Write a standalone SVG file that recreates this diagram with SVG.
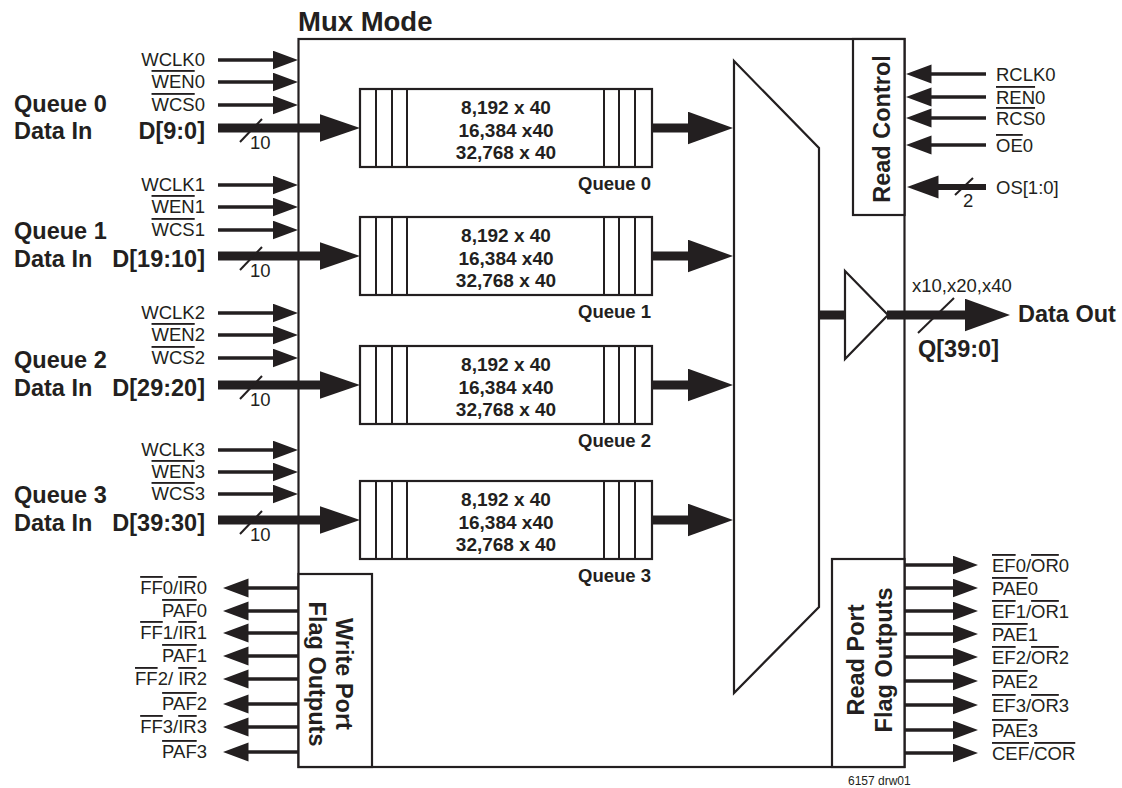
<svg xmlns="http://www.w3.org/2000/svg" width="1122" height="788" viewBox="0 0 1122 788">
<style>
text{font-family:"Liberation Sans",Arial,Helvetica,sans-serif;fill:#231f20}
.t{font-size:18.5px}
.r{text-anchor:end}
.m{text-anchor:middle}
.b{font-weight:bold;font-size:23.5px}
.q{font-weight:bold;font-size:19px;text-anchor:middle}
.ql{font-weight:bold;font-size:18.5px;text-anchor:end}
.ov{text-decoration:overline}
.box{fill:#fff;stroke:#231f20;stroke-width:2.2}
.ln{stroke:#231f20;stroke-width:2;fill:none}
.thin{stroke:#231f20;stroke-width:3.5;fill:none}
.bus{stroke:#231f20;stroke-width:9;fill:none}
.os{stroke:#231f20;stroke-width:6;fill:none}
.sl{stroke:#231f20;stroke-width:2;fill:none}
</style>
<defs>
<marker id="ah" markerUnits="userSpaceOnUse" markerWidth="26" markerHeight="20" refX="0.5" refY="9.5" orient="auto"><path d="M0,0L25.5,9.5L0,19z" fill="#231f20"/></marker>
<marker id="ahb" markerUnits="userSpaceOnUse" markerWidth="41" markerHeight="28" refX="0.5" refY="14" orient="auto"><path d="M0,0L40.5,14L0,28z" fill="#231f20"/></marker>
<marker id="aho" markerUnits="userSpaceOnUse" markerWidth="46" markerHeight="33" refX="0.5" refY="16.5" orient="auto"><path d="M0,0L45.5,16.5L0,33z" fill="#231f20"/></marker>
<marker id="ahs" markerUnits="userSpaceOnUse" markerWidth="32" markerHeight="24" refX="0.5" refY="11.5" orient="auto"><path d="M0,0L31.5,11.5L0,23z" fill="#231f20"/></marker>
</defs>
<rect width="1122" height="788" fill="#fff"/>

<g id="main">
<rect class="box" x="298.5" y="39" width="606" height="728" stroke-width="2.5"/>
<text x="298" y="31" font-weight="bold" font-size="27.5">Mux Mode</text>
</g>

<g id="queue0">
<rect class="box" x="360" y="89" width="292" height="78"/>
<path class="ln" d="M376,89V167M392,89V167M407,89V167M604,89V167M619,89V167M635,89V167"/>
<text class="q" x="506" y="114">8,192 x 40</text>
<text class="q" x="506" y="137">16,384 x40</text>
<text class="q" x="506" y="159">32,768 x 40</text>
<text class="ql" x="651" y="190">Queue 0</text>
</g>
<g id="queue1">
<rect class="box" x="360" y="217" width="292" height="78"/>
<path class="ln" d="M376,217V295M392,217V295M407,217V295M604,217V295M619,217V295M635,217V295"/>
<text class="q" x="506" y="242">8,192 x 40</text>
<text class="q" x="506" y="265">16,384 x40</text>
<text class="q" x="506" y="287">32,768 x 40</text>
<text class="ql" x="651" y="318">Queue 1</text>
</g>
<g id="queue2">
<rect class="box" x="360" y="346" width="292" height="78"/>
<path class="ln" d="M376,346V424M392,346V424M407,346V424M604,346V424M619,346V424M635,346V424"/>
<text class="q" x="506" y="371">8,192 x 40</text>
<text class="q" x="506" y="394">16,384 x40</text>
<text class="q" x="506" y="416">32,768 x 40</text>
<text class="ql" x="651" y="447">Queue 2</text>
</g>
<g id="queue3">
<rect class="box" x="360" y="481" width="292" height="78"/>
<path class="ln" d="M376,481V559M392,481V559M407,481V559M604,481V559M619,481V559M635,481V559"/>
<text class="q" x="506" y="506">8,192 x 40</text>
<text class="q" x="506" y="529">16,384 x40</text>
<text class="q" x="506" y="551">32,768 x 40</text>
<text class="ql" x="651" y="582">Queue 3</text>
</g>

<g id="mux">
<polygon class="box" points="734,61 819,148 819,607 734,693"/>
</g>
<g id="buffer">
<polygon class="box" points="845,271 888,315 845,359"/>
</g>

<g id="readcontrol">
<rect class="box" x="853" y="39" width="51.5" height="176"/>
<text class="b m" transform="translate(890,129) rotate(-90)">Read Control</text>
</g>
<g id="writeflags">
<rect class="box" x="298.5" y="574" width="73.5" height="193"/>
<text class="b m" transform="translate(336,674) rotate(90)">Write Port</text>
<text class="b m" transform="translate(308.5,674) rotate(90)">Flag Outputs</text>
</g>
<g id="readflags">
<rect class="box" x="832" y="559" width="72.5" height="208"/>
<text class="b m" transform="translate(864,660) rotate(-90)">Read Port</text>
<text class="b m" transform="translate(892,660) rotate(-90)">Flag Outputs</text>
</g>

<g id="connectors">
<path class="thin" d="M218,60H273" marker-end="url(#ah)"/>
<path class="thin" d="M218,82H273" marker-end="url(#ah)"/>
<path class="thin" d="M218,105H273" marker-end="url(#ah)"/>
<path class="bus" d="M218,128H320" marker-end="url(#ahb)"/>
<path class="sl" d="M240,142L262,119"/>
<path class="thin" d="M218,185H273" marker-end="url(#ah)"/>
<path class="thin" d="M218,207H273" marker-end="url(#ah)"/>
<path class="thin" d="M218,230H273" marker-end="url(#ah)"/>
<path class="bus" d="M218,256H320" marker-end="url(#ahb)"/>
<path class="sl" d="M240,270L262,247"/>
<path class="thin" d="M218,313H273" marker-end="url(#ah)"/>
<path class="thin" d="M218,335H273" marker-end="url(#ah)"/>
<path class="thin" d="M218,358H273" marker-end="url(#ah)"/>
<path class="bus" d="M218,385H320" marker-end="url(#ahb)"/>
<path class="sl" d="M240,399L262,376"/>
<path class="thin" d="M218,450H273" marker-end="url(#ah)"/>
<path class="thin" d="M218,472H273" marker-end="url(#ah)"/>
<path class="thin" d="M218,494H273" marker-end="url(#ah)"/>
<path class="bus" d="M218,520H320" marker-end="url(#ahb)"/>
<path class="sl" d="M240,534L262,511"/>
<path class="bus" d="M652,128H688" marker-end="url(#aho)"/>
<path class="bus" d="M652,256H688" marker-end="url(#aho)"/>
<path class="bus" d="M652,385H688" marker-end="url(#aho)"/>
<path class="bus" d="M652,520H688" marker-end="url(#aho)"/>
<path class="bus" d="M819,315H845"/>
<path class="bus" d="M887,315H965" marker-end="url(#aho)"/>
<path class="sl" d="M918,333L954,298"/>
<path class="thin" d="M986,74H931" marker-end="url(#ah)"/>
<path class="thin" d="M986,97H931" marker-end="url(#ah)"/>
<path class="thin" d="M986,118H931" marker-end="url(#ah)"/>
<path class="thin" d="M986,145H931" marker-end="url(#ah)"/>
<path class="os" d="M986,187H938" marker-end="url(#ahs)"/>
<path class="sl" d="M955,195L973,178"/>
<path class="thin" d="M298,588H248" marker-end="url(#ah)"/>
<path class="thin" d="M298,611H248" marker-end="url(#ah)"/>
<path class="thin" d="M298,633H248" marker-end="url(#ah)"/>
<path class="thin" d="M298,656H248" marker-end="url(#ah)"/>
<path class="thin" d="M298,679H248" marker-end="url(#ah)"/>
<path class="thin" d="M298,704H248" marker-end="url(#ah)"/>
<path class="thin" d="M298,727H248" marker-end="url(#ah)"/>
<path class="thin" d="M298,752H248" marker-end="url(#ah)"/>
<path class="thin" d="M905,565H953" marker-end="url(#ah)"/>
<path class="thin" d="M905,588H953" marker-end="url(#ah)"/>
<path class="thin" d="M905,611H953" marker-end="url(#ah)"/>
<path class="thin" d="M905,634H953" marker-end="url(#ah)"/>
<path class="thin" d="M905,657H953" marker-end="url(#ah)"/>
<path class="thin" d="M905,681H953" marker-end="url(#ah)"/>
<path class="thin" d="M905,705H953" marker-end="url(#ah)"/>
<path class="thin" d="M905,730H953" marker-end="url(#ah)"/>
<path class="thin" d="M905,753H953" marker-end="url(#ah)"/>
</g>

<g id="labels">
<text class="b" x="14" y="112">Queue 0</text>
<text class="b" x="14" y="139">Data In</text>
<text class="b r" x="205" y="139">D[9:0]</text>
<text class="t r" x="205" y="66">WCLK0</text>
<text class="t r" x="205" y="88"><tspan class="ov">WEN</tspan>0</text>
<text class="t r" x="205" y="111"><tspan class="ov">WCS</tspan>0</text>
<text class="t" x="250" y="149">10</text>

<text class="b" x="14" y="239">Queue 1</text>
<text class="b" x="14" y="267">Data In</text>
<text class="b r" x="205" y="267">D[19:10]</text>
<text class="t r" x="205" y="191">WCLK1</text>
<text class="t r" x="205" y="213"><tspan class="ov">WEN</tspan>1</text>
<text class="t r" x="205" y="236"><tspan class="ov">WCS</tspan>1</text>
<text class="t" x="250" y="277">10</text>

<text class="b" x="14" y="368">Queue 2</text>
<text class="b" x="14" y="396">Data In</text>
<text class="b r" x="205" y="396">D[29:20]</text>
<text class="t r" x="205" y="319">WCLK2</text>
<text class="t r" x="205" y="341"><tspan class="ov">WEN</tspan>2</text>
<text class="t r" x="205" y="364"><tspan class="ov">WCS</tspan>2</text>
<text class="t" x="250" y="406">10</text>

<text class="b" x="14" y="503">Queue 3</text>
<text class="b" x="14" y="531">Data In</text>
<text class="b r" x="205" y="531">D[39:30]</text>
<text class="t r" x="205" y="456">WCLK3</text>
<text class="t r" x="205" y="478"><tspan class="ov">WEN</tspan>3</text>
<text class="t r" x="205" y="500"><tspan class="ov">WCS</tspan>3</text>
<text class="t" x="250" y="541">10</text>

<text class="t" x="912" y="292">x10,x20,x40</text>
<text class="b" x="1018" y="322">Data Out</text>
<text class="b" x="918" y="357">Q[39:0]</text>

<text class="t" x="996" y="81">RCLK0</text>
<text class="t" x="996" y="104"><tspan class="ov">REN</tspan>0</text>
<text class="t" x="996" y="125"><tspan class="ov">RCS</tspan>0</text>
<text class="t" x="996" y="152"><tspan class="ov">OE</tspan>0</text>
<text class="t" x="996" y="194">OS[1:0]</text>
<text class="t" x="963" y="207" font-size="16.5">2</text>

<text class="t r" x="207" y="594"><tspan class="ov">FF</tspan>0/<tspan class="ov">IR</tspan>0</text>
<text class="t r" x="207" y="617"><tspan class="ov">PAF</tspan>0</text>
<text class="t r" x="207" y="639"><tspan class="ov">FF</tspan>1/<tspan class="ov">IR</tspan>1</text>
<text class="t r" x="207" y="662"><tspan class="ov">PAF</tspan>1</text>
<text class="t r" x="207" y="685"><tspan class="ov">FF</tspan>2/ <tspan class="ov">IR</tspan>2</text>
<text class="t r" x="207" y="710"><tspan class="ov">PAF</tspan>2</text>
<text class="t r" x="207" y="733"><tspan class="ov">FF</tspan>3/<tspan class="ov">IR</tspan>3</text>
<text class="t r" x="207" y="758"><tspan class="ov">PAF</tspan>3</text>

<text class="t" x="992" y="572"><tspan class="ov">EF</tspan>0/<tspan class="ov">OR</tspan>0</text>
<text class="t" x="992" y="595"><tspan class="ov">PAE</tspan>0</text>
<text class="t" x="992" y="618"><tspan class="ov">EF</tspan>1/<tspan class="ov">OR</tspan>1</text>
<text class="t" x="992" y="641"><tspan class="ov">PAE</tspan>1</text>
<text class="t" x="992" y="664"><tspan class="ov">EF</tspan>2/<tspan class="ov">OR</tspan>2</text>
<text class="t" x="992" y="688"><tspan class="ov">PAE</tspan>2</text>
<text class="t" x="992" y="712"><tspan class="ov">EF</tspan>3/<tspan class="ov">OR</tspan>3</text>
<text class="t" x="992" y="737"><tspan class="ov">PAE</tspan>3</text>
<text class="t" x="992" y="760"><tspan class="ov">CEF</tspan>/<tspan class="ov">COR</tspan></text>

<text x="848" y="785" font-size="12">6157 drw01</text>
</g>
</svg>
